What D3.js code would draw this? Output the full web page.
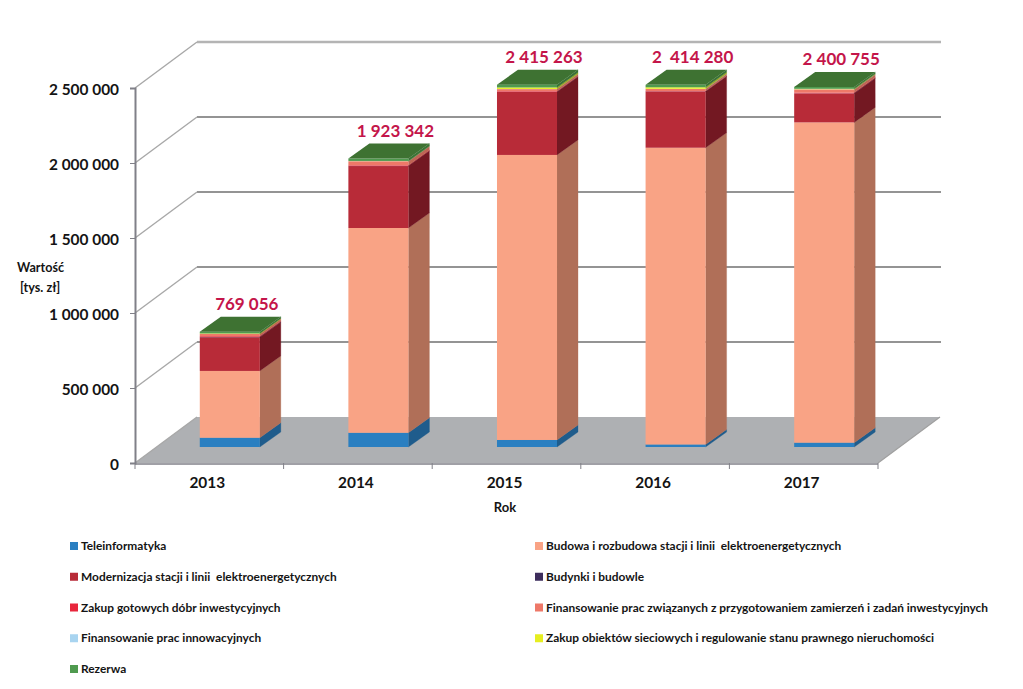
<!DOCTYPE html>
<html><head><meta charset="utf-8">
<script src="https://cdn.jsdelivr.net/npm/d3@7"></script>
<style>
html,body{margin:0;padding:0;background:#fff}
svg{display:block}
text{font-family:Lato,"Open Sans",sans-serif;font-weight:700;fill:#141414;white-space:pre}
</style></head><body>
<svg id="c" width="1023" height="689"></svg>
<script>
const years = ["2013","2014","2015","2016","2017"];
const totalLabels = ["769 056","1 923 342","2 415 263","2  414 280","2 400 755"];
const yTicks = [0,500000,1000000,1500000,2000000,2500000];
const seriesNames = ["Teleinformatyka","Budowa i rozbudowa stacji i linii  elektroenergetycznych","Modernizacja stacji i linii  elektroenergetycznych","Budynki i budowle","Zakup gotowych dóbr inwestycyjnych","Finansowanie prac związanych z przygotowaniem zamierzeń i zadań inwestycyjnych","Finansowanie prac innowacyjnych","Zakup obiektów sieciowych i regulowanie stanu prawnego nieruchomości","Rezerwa"];
const teleinformatyka = [62000,95000,47000,17000,29000];
const budowa = [445000,1365000,1900000,1978000,2135000];
const modernizacja = [225000,413000,420000,375000,193000];
const budynki = [2000,1000,1000,1000,1000];
const zakupDobr = [5000,4000,4000,2000,5000];
const finansowanieZamierzen = [15000,27000,14000,14000,21000];
const innowacje = [0,1000,1000,1000,1000];
const zakupObiektow = [3000,1000,10000,10000,3000];
const rezerwa = [12056,16342,18263,16280,12755];
const frontColors = ["#2a7fc1","#f9a385","#b82b38","#3d2d5c","#e8263c","#ee7868","#a8d4f0","#e6ee20","#4f9a4f"];
const sideColors = ["#1f5c8c","#b06f58","#731822","#2a1f40","#a81c2b","#bf6554","#7da0b5","#a5ab18","#3a7236"];
const topColor = "#3e7232";
const legendOrder = [[0,1],[2,3],[4,5],[6,7],[8]];

const svg = d3.select("#c");
const x = d3.scaleBand().domain(years).range([135,878]);
const barX = d3.scaleBand().domain(years).range([155.5,898.5]).paddingInner(0.596).paddingOuter(0.298);
const y = d3.scaleLinear().domain([0,2500000]).range([463,88]);
const wall = {dx:62, dy:-46}, bar = {dy:-16, dx:21, up:-15};
const pts = a => a.map(p=>p.join(",")).join(" ");

// floor
svg.append("polygon").attr("points",pts([[135,y(0)],[878,y(0)],[878+wall.dx,y(0)+wall.dy],[135+wall.dx,y(0)+wall.dy]])).attr("fill","#aeb0b3");
// grid on back wall and side wall
yTicks.forEach(t=>{
  const yy=y(t);
  if(t>0) svg.append("line").attr("x1",135+wall.dx).attr("x2",878+wall.dx+1).attr("y1",yy+wall.dy).attr("y2",yy+wall.dy)
    .attr("stroke",t===2500000?"#b4b4b4":"#717171").attr("stroke-width",t===2500000?2.5:1.5);
  svg.append("line").attr("x1",135).attr("x2",135+wall.dx).attr("y1",yy).attr("y2",yy+wall.dy).attr("stroke","#a8a8a8").attr("stroke-width",1.4);
});
svg.append("line").attr("x1",878).attr("x2",878+wall.dx).attr("y1",y(0)).attr("y2",y(0)+wall.dy).attr("stroke","#a0a0a0").attr("stroke-width",1.2);

// axes
const yAxis = d3.axisLeft(y).tickValues(yTicks).tickSize(5).tickPadding(11)
  .tickFormat(d3.formatLocale({thousands:" ",grouping:[3],decimal:",",currency:["",""]}).format(","));
const gy = svg.append("g").attr("transform","translate(135,0)").call(yAxis);
gy.select(".domain").attr("stroke","#808088").attr("stroke-width",2);
gy.selectAll(".tick line").attr("stroke","#808088");
gy.selectAll("text").attr("dy","0.4em").style("font-size","15.4px").style("font-family","Lato").style("font-weight","700").style("fill","#141414");
const xAxis = d3.axisBottom(x).tickSize(0).tickPadding(14);
const gx = svg.append("g").attr("transform",`translate(-2,${y(0)})`).call(xAxis);
gx.select(".domain").remove();
gx.selectAll("text").style("font-size","15.4px").style("font-family","Lato").style("font-weight","700").style("fill","#141414");
svg.append("line").attr("x1",135).attr("x2",878).attr("y1",y(0)+1).attr("y2",y(0)+1).attr("stroke","#808088").attr("stroke-width",1.6);
years.concat("end").forEach((c,i)=>{
  const xx=135+i*x.step();
  svg.append("line").attr("x1",xx).attr("x2",xx).attr("y1",y(0)).attr("y2",y(0)+6).attr("stroke","#808088");
});

// bars
const allSeries=[teleinformatyka,budowa,modernizacja,budynki,zakupDobr,finansowanieZamierzen,innowacje,zakupObiektow,rezerwa];
const table=years.map((yr,i)=>{const o={year:yr};allSeries.forEach((s,k)=>o[k]=s[i]);return o;});
const stacked=d3.stack().keys(d3.range(allSeries.length))(table);
years.forEach((yr,i)=>{
  const g=svg.append("g");
  const x0=barX(yr), x1=x0+barX.bandwidth();
  stacked.forEach((layer,k)=>{
    const [a,b]=layer[i]; if(b<=a) return;
    const ya=y(a)+bar.dy, yb=y(b)+bar.dy;
    g.append("polygon").attr("points",pts([[x1,ya],[x1+bar.dx,ya+bar.up],[x1+bar.dx,yb+bar.up],[x1,yb]])).attr("fill",sideColors[k]).attr("stroke",sideColors[k]).attr("stroke-width",0.3);
    g.append("rect").attr("x",x0).attr("y",yb).attr("width",barX.bandwidth()).attr("height",ya-yb).attr("fill",frontColors[k]);
  });
  const top=stacked[stacked.length-1][i][1], yt=y(top)+bar.dy;
  g.append("polygon").attr("points",pts([[x0,yt],[x1,yt],[x1+bar.dx,yt+bar.up],[x0+bar.dx,yt+bar.up]])).attr("fill",topColor);
  svg.append("text").text(totalLabels[i]).attr("x",(x0+x1)/2+17).attr("y",yt-21.5).attr("text-anchor","middle")
    .style("font-size","17px").style("fill","#c4154a");
});

// titles
svg.append("text").text("Rok").attr("x",505).attr("y",512).attr("text-anchor","middle").style("font-size","13px");
svg.append("text").text("Wartość").attr("x",17).attr("y",272).style("font-size","12.6px");
svg.append("text").text("[tys. zł]").attr("x",20).attr("y",292).style("font-size","12.6px");

// legend
const rowY=d3.scalePoint().domain(d3.range(legendOrder.length)).range([546,669]);
const colX=[70,535];
legendOrder.forEach((row,r)=>row.forEach((k,c)=>{
  svg.append("rect").attr("x",colX[c]).attr("y",rowY(r)-4).attr("width",8).attr("height",8).attr("fill",frontColors[k]);
  svg.append("text").text(seriesNames[k]).attr("x",colX[c]+11).attr("y",rowY(r)+4).style("font-size","11.9px");
}));
</script></body></html>
